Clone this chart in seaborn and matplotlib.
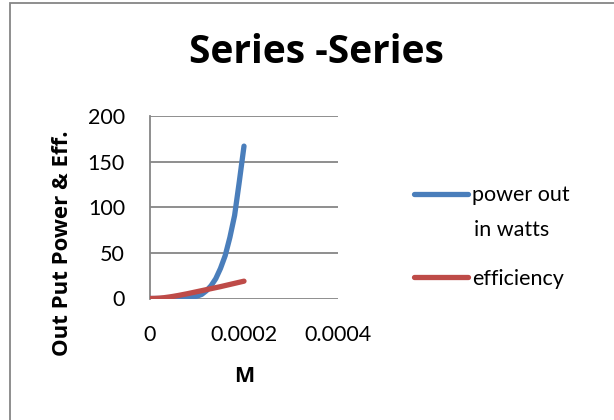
import matplotlib
matplotlib.use("Agg")
import matplotlib.pyplot as plt
import seaborn as sns
import pandas as pd
from matplotlib.patches import Rectangle

# Data
m_values = [0, 0.00001, 0.00002, 0.00003, 0.00004, 0.00005, 0.00006,
            0.00007, 0.00008, 0.00009, 0.0001, 0.00011, 0.00012, 0.00013,
            0.00014, 0.00015, 0.00016, 0.00017, 0.00018, 0.00019, 0.0002]
power_out = [0, 0, 0, 0, 0.1, 0.2, 0.4, 0.7, 1.1, 1.7, 2.6, 4.5, 8.5, 14,
             21.8, 33, 47, 67, 91, 128, 167]
efficiency = [0, 0.1, 0.4, 0.9, 1.6, 2.4, 3.3, 4.3, 5.3, 6.4, 7.5, 8.6,
              9.7, 10.8, 11.9, 13, 14.2, 15.4, 16.6, 17.8, 19]
series_names = ["power out in watts", "efficiency"]
x_ticks = [0, 0.0002, 0.0004]
x_tick_labels = ["0", "0.0002", "0.0004"]
y_ticks = [0, 50, 100, 150, 200]

df = pd.concat([
    pd.DataFrame({"M": m_values, "value": power_out, "series": series_names[0]}),
    pd.DataFrame({"M": m_values, "value": efficiency, "series": series_names[1]}),
])

sns.set_theme(style="white")
plt.rcParams["font.family"] = ["Lato", "DejaVu Sans"]
plt.rcParams["text.color"] = "black"
bold_family = ["Open Sans", "DejaVu Sans"]

fig = plt.figure(figsize=(6.14, 4.2), dpi=100)
ax = fig.add_axes([150 / 614, 1 - 298.5 / 420, 188 / 614, 182.5 / 420])

palette = {series_names[0]: "#4A7EBB", series_names[1]: "#BE4B48"}
sns.lineplot(data=df, x="M", y="value", hue="series", palette=palette,
             linewidth=3.8, ax=ax, legend=True, zorder=3)
for line in ax.lines:
    line.set_solid_capstyle("round")
    line.set_solid_joinstyle("round")

ax.set_xlim(0, 0.0004)
ax.set_ylim(0, 200)
ax.set_xticks(x_ticks)
ax.set_xticklabels(x_tick_labels)
ax.set_yticks(y_ticks)
ax.tick_params(axis="both", labelsize=15.5, length=0, colors="#000000")
ax.tick_params(axis="x", pad=19)
ax.tick_params(axis="y", pad=18)
ax.grid(axis="y", color="#868686", linewidth=1.3)
ax.set_axisbelow(True)
for side in ["top", "right", "bottom"]:
    ax.spines[side].set_visible(False)
ax.spines["left"].set_color("#868686")
ax.spines["left"].set_linewidth(1.3)
ax.set_xlabel("")
ax.set_ylabel("")

fig.text(244 / 614, 1 - 382 / 420, "M", ha="center", va="baseline",
         fontsize=15.5, fontweight="bold", family=bold_family, color="black")
fig.text(63 / 614, 1 - 243 / 420, "Out Put Power & Eff.", ha="center",
         va="center", rotation=90, fontsize=16, fontweight="bold",
         family=bold_family, color="black")
fig.text(316 / 614, 1 - 63 / 420, "Series -Series", ha="center",
         va="baseline", fontsize=28, fontweight="bold", family=bold_family,
         color="black")

# Legend: first row text is "power out", its second line is added below
handles, _ = ax.get_legend_handles_labels()
legend = ax.legend(handles, ["power out", "efficiency"], loc="center left",
                   bbox_to_anchor=(414 / 614, 1 - 237 / 420),
                   bbox_transform=fig.transFigure, frameon=False,
                   fontsize=15.5, handlelength=2.5, handletextpad=0.2,
                   labelspacing=2.95, borderaxespad=0, borderpad=0)
for text in legend.get_texts():
    text.set_color("black")
fig.text(474 / 614, 1 - 230 / 420, "in watts", ha="left", va="center",
         fontsize=15.5, color="black")

# Chart border
fig.patches.append(Rectangle((9.5 / 614, -0.1), 1.2, (1 - 3.5 / 420) + 0.1,
                             transform=fig.transFigure, fill=False,
                             edgecolor="#868686", linewidth=1.3))

fig.savefig("out.png", dpi=100)
